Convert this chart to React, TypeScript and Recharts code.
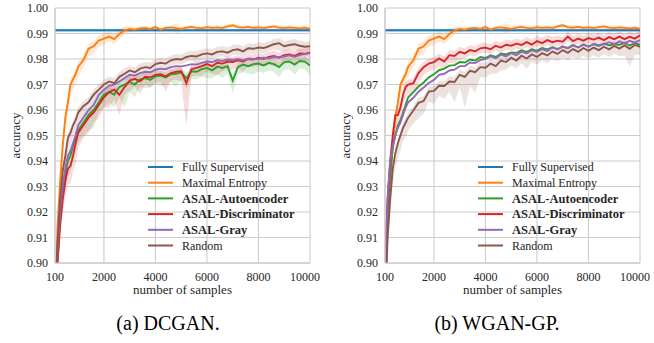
import React from 'react';
import {
  ComposedChart,
  Line,
  Area,
  XAxis,
  YAxis,
  CartesianGrid,
  ReferenceLine,
  ReferenceArea,
  Legend,
  Label,
} from 'recharts';

// x positions (number of labelled samples)
const samples = [
  100, 150, 200, 300, 400,
  500, 600, 700, 800, 900,
  1000,
  1200, 1400, 1600, 1800, 2000,
  2200, 2400, 2600, 2800, 3000,
  3200, 3400, 3600, 3800, 4000,
  4200, 4400, 4600, 4800, 5000,
  5200, 5400, 5600, 5800, 6000,
  6200, 6400, 6600, 6800, 7000,
  7200, 7400, 7600, 7800, 8000,
  8200, 8400, 8600, 8800, 9000,
  9200, 9400, 9600, 9800, 10000,
];

const fullySupervised = 0.9913;
const fullySupervisedBand = [0.9905, 0.9919];

// same curve in both panels
const maxEntropy = [
  0.875, 0.898, 0.915, 0.932, 0.946,
  0.957, 0.963, 0.970, 0.972, 0.974,
  0.977,
  0.9795, 0.984, 0.985, 0.9872, 0.988,
  0.9888, 0.9878, 0.9898, 0.9912, 0.9918,
  0.9915, 0.992, 0.9922, 0.9918, 0.9925,
  0.9915, 0.9922, 0.9924, 0.9921, 0.9918,
  0.9923, 0.9926, 0.9922, 0.992, 0.9925,
  0.9922, 0.9924, 0.9921, 0.9928, 0.9932,
  0.9925, 0.9923, 0.9926, 0.9922, 0.9924,
  0.9921, 0.9925, 0.9928, 0.9923, 0.9921,
  0.9924, 0.9922, 0.992, 0.9923, 0.9918,
];
const maxEntropySpread = [
  0.004, 0.004, 0.005, 0.006, 0.006,
  0.005, 0.005, 0.005, 0.004, 0.004,
  0.004,
  0.003, 0.003, 0.003, 0.0025, 0.0025,
  0.002, 0.002, 0.002, 0.0015, 0.0012,
  0.001, 0.0008, 0.0008, 0.0008, 0.0008,
  0.0008, 0.0008, 0.0008, 0.002, 0.0008,
  0.0008, 0.0008, 0.0008, 0.0008, 0.0008,
  0.0008, 0.0008, 0.0008, 0.0008, 0.0008,
  0.0008, 0.0008, 0.0008, 0.0008, 0.0008,
  0.0008, 0.0008, 0.0008, 0.0008, 0.0008,
  0.0008, 0.0008, 0.0008, 0.0008, 0.0008,
];

// (a) DCGAN
const dcAutoencoder = [
  0.878, 0.89, 0.902, 0.918, 0.928,
  0.935, 0.94, 0.942, 0.946, 0.949,
  0.952,
  0.955, 0.958, 0.96, 0.963, 0.966,
  0.967, 0.966, 0.969, 0.97, 0.971,
  0.97, 0.972, 0.9725, 0.9718, 0.9732,
  0.9735, 0.9728, 0.974, 0.9742, 0.9748,
  0.9725, 0.9752, 0.975, 0.976, 0.9765,
  0.9755, 0.977, 0.9765, 0.9772, 0.9715,
  0.9768, 0.9778, 0.9772, 0.978, 0.9782,
  0.9775, 0.9785, 0.978, 0.9768, 0.9788,
  0.979, 0.9778, 0.9792, 0.979, 0.9775,
];
const dcAutoencoderSpread = [
  0.006, 0.006, 0.006, 0.006, 0.006,
  0.005, 0.006, 0.006, 0.005, 0.006,
  0.005,
  0.005, 0.006, 0.007, 0.004, 0.005,
  0.004, 0.005, 0.004, 0.009, 0.004,
  0.005, 0.003, 0.004, 0.003, 0.003,
  0.004, 0.003, 0.003, 0.005, 0.003,
  0.004, 0.003, 0.003, 0.003, 0.004,
  0.003, 0.003, 0.004, 0.003, 0.005,
  0.003, 0.003, 0.003, 0.004, 0.003,
  0.003, 0.003, 0.003, 0.004, 0.003,
  0.003, 0.004, 0.003, 0.003, 0.004,
];
const dcDiscriminator = [
  0.875, 0.888, 0.9, 0.915, 0.925,
  0.932, 0.937, 0.938, 0.942, 0.947,
  0.951,
  0.954, 0.957, 0.959, 0.962, 0.965,
  0.967, 0.968, 0.966, 0.969, 0.9715,
  0.9722, 0.9712, 0.973, 0.9728, 0.9738,
  0.974, 0.9732, 0.9745, 0.975, 0.9752,
  0.9705, 0.976, 0.9765, 0.9772, 0.978,
  0.9772, 0.9785, 0.9782, 0.979, 0.9788,
  0.9795, 0.979, 0.98, 0.9798, 0.9805,
  0.98, 0.9808, 0.9812, 0.9805, 0.9815,
  0.9818, 0.9812, 0.9822, 0.982, 0.9825,
];
const dcDiscriminatorSpread = [
  0.006, 0.006, 0.006, 0.006, 0.006,
  0.006, 0.006, 0.007, 0.006, 0.008,
  0.006,
  0.005, 0.006, 0.004, 0.005, 0.004,
  0.006, 0.004, 0.008, 0.003, 0.004,
  0.003, 0.005, 0.003, 0.004, 0.003,
  0.003, 0.006, 0.003, 0.003, 0.004,
  0.017, 0.003, 0.003, 0.004, 0.003,
  0.003, 0.005, 0.003, 0.003, 0.003,
  0.003, 0.004, 0.003, 0.003, 0.003,
  0.003, 0.003, 0.004, 0.003, 0.003,
  0.003, 0.004, 0.003, 0.003, 0.004,
];
const dcGray = [
  0.88, 0.893, 0.905, 0.92, 0.93,
  0.937, 0.942, 0.944, 0.947, 0.95,
  0.954,
  0.957, 0.96, 0.962, 0.966, 0.968,
  0.9695, 0.97, 0.9712, 0.9725, 0.9738,
  0.9735, 0.9745, 0.975, 0.9748, 0.9758,
  0.9762, 0.976, 0.9768, 0.9772, 0.9771,
  0.9775, 0.978, 0.9778, 0.9785, 0.979,
  0.9788, 0.9795, 0.9792, 0.9798, 0.9796,
  0.98, 0.9795, 0.9802, 0.98, 0.98,
  0.9805, 0.9803, 0.9808, 0.9806, 0.981,
  0.9814, 0.9808, 0.9815, 0.982, 0.9822,
];
const dcRandom = [
  0.885, 0.898, 0.908, 0.925, 0.936,
  0.942, 0.949, 0.951, 0.954, 0.956,
  0.959,
  0.9615, 0.963, 0.966, 0.968, 0.97,
  0.9712, 0.9705, 0.973, 0.9742, 0.9755,
  0.9748, 0.9762, 0.9768, 0.9765, 0.978,
  0.9785, 0.9782, 0.9795, 0.98, 0.9798,
  0.9808, 0.9812, 0.981, 0.9818, 0.9822,
  0.9818, 0.9828, 0.983, 0.9825, 0.9835,
  0.9838, 0.983, 0.9842, 0.984, 0.9845,
  0.9843, 0.985, 0.9858, 0.9862, 0.985,
  0.9855, 0.9858, 0.9852, 0.9848, 0.985,
];
const dcRandomSpread = [
  0.006, 0.006, 0.006, 0.006, 0.005,
  0.005, 0.006, 0.005, 0.005, 0.005,
  0.005,
  0.004, 0.005, 0.004, 0.004, 0.006,
  0.003, 0.004, 0.003, 0.003, 0.003,
  0.003, 0.003, 0.003, 0.003, 0.003,
  0.002, 0.003, 0.002, 0.002, 0.002,
  0.002, 0.002, 0.003, 0.002, 0.002,
  0.002, 0.002, 0.002, 0.002, 0.002,
  0.002, 0.002, 0.002, 0.002, 0.002,
  0.002, 0.002, 0.002, 0.003, 0.002,
  0.002, 0.002, 0.003, 0.004, 0.003,
];

// (b) WGAN-GP
const wgAutoencoder = [
  0.885, 0.905, 0.92, 0.935, 0.945,
  0.95, 0.954, 0.956, 0.959, 0.962,
  0.965,
  0.967, 0.9692, 0.9708, 0.9728, 0.974,
  0.9756, 0.9762, 0.9774, 0.9776, 0.9788,
  0.9786, 0.9798, 0.9794, 0.9808, 0.9804,
  0.9815, 0.9808, 0.9822, 0.9818, 0.9826,
  0.9824, 0.9834, 0.9828, 0.9838, 0.9833,
  0.9843, 0.9838, 0.9846, 0.984, 0.9848,
  0.9844, 0.9855, 0.9846, 0.9856, 0.9849,
  0.9858, 0.9851, 0.986, 0.9854, 0.9858,
  0.9856, 0.9863, 0.9853, 0.9862, 0.9856,
];
const wgDiscriminator = [
  0.89, 0.912, 0.925, 0.94, 0.95,
  0.958, 0.958, 0.961, 0.966, 0.969,
  0.97,
  0.9705, 0.9745, 0.9768, 0.9782, 0.9788,
  0.9802, 0.979, 0.9815, 0.9812, 0.9828,
  0.9822, 0.9835, 0.983, 0.9842, 0.9845,
  0.9838, 0.9852, 0.9845, 0.9856, 0.9852,
  0.986, 0.9855, 0.9866, 0.9856, 0.987,
  0.9862, 0.9874, 0.9866, 0.9872, 0.9868,
  0.9888, 0.987, 0.988, 0.9872, 0.9882,
  0.9876, 0.9884, 0.9874, 0.9886, 0.9878,
  0.9888, 0.9878, 0.9887, 0.988, 0.9893,
];
const wgDiscriminatorSpread = [
  0.006, 0.006, 0.006, 0.006, 0.005,
  0.005, 0.005, 0.005, 0.004, 0.004,
  0.004,
  0.004, 0.004, 0.003, 0.003, 0.003,
  0.003, 0.003, 0.003, 0.003, 0.003,
  0.002, 0.002, 0.002, 0.002, 0.002,
  0.002, 0.002, 0.002, 0.002, 0.002,
  0.002, 0.002, 0.002, 0.002, 0.002,
  0.002, 0.002, 0.002, 0.002, 0.002,
  0.002, 0.002, 0.002, 0.002, 0.002,
  0.002, 0.002, 0.002, 0.002, 0.002,
  0.002, 0.002, 0.002, 0.002, 0.002,
];
const wgGray = [
  0.892, 0.91, 0.925, 0.94, 0.946,
  0.95, 0.953, 0.955, 0.958, 0.961,
  0.963,
  0.9648, 0.9672, 0.9688, 0.9706, 0.9718,
  0.9738, 0.9742, 0.9755, 0.9758, 0.9772,
  0.9772, 0.9786, 0.9784, 0.9796, 0.98,
  0.981, 0.9802, 0.9817, 0.981, 0.9823,
  0.9815, 0.9829, 0.9822, 0.9834, 0.9828,
  0.9839, 0.9831, 0.9845, 0.9837, 0.9849,
  0.9841, 0.9853, 0.9845, 0.9857, 0.9848,
  0.9859, 0.9855, 0.9858, 0.9866, 0.9858,
  0.9869, 0.9861, 0.9871, 0.9864, 0.9874,
];
const wgRandom = [
  0.88, 0.895, 0.91, 0.925, 0.937,
  0.943, 0.947, 0.95, 0.953, 0.955,
  0.957,
  0.9598, 0.9628, 0.9635, 0.9672, 0.9675,
  0.9695, 0.9694, 0.9712, 0.971, 0.9738,
  0.973, 0.9754, 0.9748, 0.9768, 0.9766,
  0.9782, 0.9772, 0.9794, 0.9788, 0.9805,
  0.9794, 0.9813, 0.9802, 0.9818, 0.9808,
  0.9823, 0.9814, 0.9829, 0.982, 0.9835,
  0.9824, 0.9839, 0.9828, 0.9843, 0.9832,
  0.9845, 0.9835, 0.9848, 0.9838, 0.9851,
  0.9841, 0.9853, 0.984, 0.9855, 0.9848,
];
const wgRandomSpread = [
  0.006, 0.006, 0.006, 0.006, 0.006,
  0.006, 0.006, 0.006, 0.005, 0.006,
  0.005,
  0.005, 0.006, 0.005, 0.004, 0.005,
  0.004, 0.005, 0.004, 0.008, 0.005,
  0.012, 0.006, 0.008, 0.004, 0.004,
  0.004, 0.003, 0.004, 0.003, 0.003,
  0.003, 0.003, 0.004, 0.003, 0.003,
  0.003, 0.003, 0.003, 0.003, 0.003,
  0.003, 0.003, 0.003, 0.003, 0.003,
  0.003, 0.003, 0.003, 0.003, 0.003,
  0.003, 0.004, 0.007, 0.004, 0.003,
];

const xTicks = [100, 2000, 4000, 6000, 8000, 10000];
const yTicks = [0.9, 0.91, 0.92, 0.93, 0.94, 0.95, 0.96, 0.97, 0.98, 0.99, 1.0];

const series = [
  { key: 'me', name: 'Maximal Entropy', color: '#ff7f0e', bold: false },
  { key: 'ae', name: 'ASAL-Autoencoder', color: '#2ca02c', bold: true },
  { key: 'disc', name: 'ASAL-Discriminator', color: '#d62728', bold: true },
  { key: 'gray', name: 'ASAL-Gray', color: '#9467bd', bold: true },
  { key: 'rand', name: 'Random', color: '#8c564b', bold: false },
];
const legendItems = [{ name: 'Fully Supervised', color: '#1f77b4', bold: false }, ...series];
const colorOf: Record<string, string> = Object.fromEntries(series.map((s) => [s.key, s.color]));

const font = '"Liberation Serif", "Times New Roman", "DejaVu Serif", serif';
const ink = '#262626';

type Table = Record<string, number[]>;

// band is shaded mostly below the mean, capped above
const buildRows = (values: Table, spreads: Table) =>
  samples.map((x, i) => {
    const row: Record<string, any> = { x };
    Object.keys(values).forEach((k) => {
      row[k] = values[k][i];
    });
    Object.keys(spreads).forEach((k) => {
      const s = spreads[k][i];
      row[k + 'Band'] = [values[k][i] - s, values[k][i] + Math.min(s, 0.002)];
    });
    return row;
  });

const dcganValues = { me: maxEntropy, ae: dcAutoencoder, disc: dcDiscriminator, gray: dcGray, rand: dcRandom };
const dcganSpreads = { me: maxEntropySpread, ae: dcAutoencoderSpread, disc: dcDiscriminatorSpread, rand: dcRandomSpread };
const wganValues = { me: maxEntropy, ae: wgAutoencoder, disc: wgDiscriminator, gray: wgGray, rand: wgRandom };
const wganSpreads = { me: maxEntropySpread, disc: wgDiscriminatorSpread, rand: wgRandomSpread };

const dcganData = buildRows(dcganValues, dcganSpreads);
const wganData = buildRows(wganValues, wganSpreads);

const LegendBox = () => (
  <svg width={170} height={100} style={{ display: 'block', fontFamily: font }}>
    {legendItems.map((item, i) => {
      const y = 8 + i * 15.7;
      return (
        <g key={item.name}>
          <line x1={0} x2={25} y1={y} y2={y} stroke={item.color} strokeWidth={2} />
          <text
            x={34}
            y={y}
            dy="0.35em"
            fontSize={item.bold ? 12.5 : 12}
            fontWeight={item.bold ? 'bold' : 'normal'}
            style={{ fontFamily: font }}
            fill={ink}
          >
            {item.name}
          </text>
        </g>
      );
    })}
  </svg>
);

const Panel = ({ data, bands }: { data: any[]; bands: string[] }) => (
  <ComposedChart
    width={320}
    height={300}
    data={data}
    margin={{ top: 8, right: 10, left: 10, bottom: 0 }}
    style={{ fontFamily: font }}
  >
    <style>{`.recharts-text { font-family: ${font}; }`}</style>
    <CartesianGrid stroke="#cccccc" strokeWidth={1.1} />
    <XAxis
      dataKey="x"
      type="number"
      domain={[100, 10000]}
      ticks={xTicks}
      allowDataOverflow
      height={37}
      tickLine={false}
      axisLine={{ stroke: '#cccccc', strokeWidth: 1.25 }}
      tickSize={6}
      tickMargin={3}
      tick={{ fill: ink, fontSize: 12 }}
    >
      <Label value="number of samples" position="insideBottom" offset={6} fill={ink} fontSize={13} />
    </XAxis>
    <YAxis
      type="number"
      domain={[0.9, 1.0]}
      ticks={yTicks}
      allowDataOverflow
      width={45}
      tickLine={false}
      axisLine={{ stroke: '#cccccc', strokeWidth: 1.25 }}
      tickSize={5}
      tickMargin={2}
      tickFormatter={(v: number) => v.toFixed(2)}
      tick={{ fill: ink, fontSize: 12 }}
    >
      <Label
        value="accuracy"
        angle={-90}
        position="insideLeft"
        offset={5}
        fill={ink}
        fontSize={13}
        style={{ textAnchor: 'middle' }}
      />
    </YAxis>
    <ReferenceArea
      y1={fullySupervisedBand[0]}
      y2={fullySupervisedBand[1]}
      fill="#1f77b4"
      fillOpacity={0.2}
      stroke="none"
    />
    {bands.map((k) => (
      <Area
        key={k + 'Band'}
        type="linear"
        dataKey={k + 'Band'}
        stroke="none"
        fill={colorOf[k]}
        fillOpacity={0.17}
        legendType="none"
        activeDot={false}
        isAnimationActive={false}
      />
    ))}
    <ReferenceLine y={fullySupervised} stroke="#1f77b4" strokeWidth={2} />
    {series.map((s) => (
      <Line
        key={s.key}
        type="linear"
        dataKey={s.key}
        name={s.name}
        stroke={s.color}
        strokeWidth={1.9}
        dot={false}
        activeDot={false}
        isAnimationActive={false}
      />
    ))}
    <Legend
      layout="vertical"
      align="center"
      verticalAlign="middle"
      content={() => <LegendBox />}
      wrapperStyle={{ left: 148, top: 159, width: 170, height: 100 }}
    />
  </ComposedChart>
);

const captionStyle: React.CSSProperties = {
  position: 'absolute',
  top: 310,
  width: 200,
  textAlign: 'center',
  fontFamily: font,
  fontSize: 20,
  color: '#000',
  lineHeight: '26px',
};

export default function App() {
  return (
    <div style={{ position: 'absolute', left: 0, top: 0, width: 654, height: 343, background: '#fff' }}>
      <div style={{ position: 'absolute', left: 0, top: 0 }}>
        <Panel data={dcganData} bands={Object.keys(dcganSpreads)} />
      </div>
      <div style={{ position: 'absolute', left: 330, top: 0 }}>
        <Panel data={wganData} bands={Object.keys(wganSpreads)} />
      </div>
      <div style={{ ...captionStyle, left: 168 - 100 }}>(a) DCGAN.</div>
      <div style={{ ...captionStyle, left: 497 - 100 }}>(b) WGAN-GP.</div>
    </div>
  );
}
